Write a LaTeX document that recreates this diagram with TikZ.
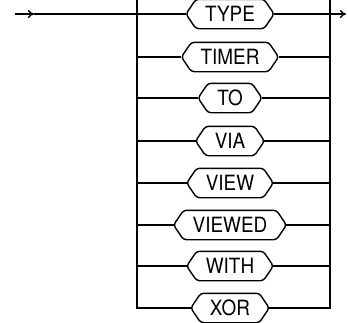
\documentclass[tikz,border=0pt]{standalone}
\usepackage{fontspec}
\setmainfont{TeX Gyre Heros}[FakeStretch=0.9]
\usetikzlibrary{arrows.meta}
\tikzset{
  kw/.style={shape=rectangle, minimum height=29pt, inner xsep=9pt, inner ysep=0pt,
    font=\fontsize{21pt}{21pt}\selectfont},
  outline/.style={draw, line width=1.4pt, rounded corners=3pt},
  wire/.style={line width=1.4pt},
  tip/.style={-{To[length=6pt,width=8pt]}}
}
\begin{document}
\begin{tikzpicture}[x=1pt,y=-1pt]
\useasboundingbox (0,0) rectangle (348,322);
\coordinate (lt) at (137,0);
\coordinate (rt) at (330,0);
\coordinate (in) at (15,14);
\coordinate (inm) at (34,14);
\coordinate (out) at (346,14);
\node[kw] (k1) at (230,14) {TYPE};
\node[kw] (k2) at (230,57) {TIMER};
\node[kw] (k3) at (230,98) {TO};
\node[kw] (k4) at (230,141) {VIA};
\node[kw] (k5) at (230,183) {VIEW};
\node[kw] (k6) at (230,225) {VIEWED};
\node[kw] (k7) at (230,266) {WITH};
\node[kw] (k8) at (230,308) {XOR};
\foreach \i in {1,...,8} {
  \coordinate (w\i) at ([xshift=-10pt]k\i.west);
  \coordinate (e\i) at ([xshift=10pt]k\i.east);
  \draw[outline] (w\i) -- (k\i.north west) -- (k\i.north east) -- (e\i)
    -- (k\i.south east) -- (k\i.south west) -- cycle;
}
\draw[wire,tip] (in) -- (inm);
\draw[wire] (inm) -- (w1);
\draw[wire,tip] (e1) -- (out);
\draw[wire] (lt) |- (w8);
\draw[wire] (rt) |- (e8);
\foreach \i in {2,...,7} {
  \draw[wire] (w\i) -- (lt |- w\i);
  \draw[wire] (e\i) -- (rt |- e\i);
}
\end{tikzpicture}
\end{document}
